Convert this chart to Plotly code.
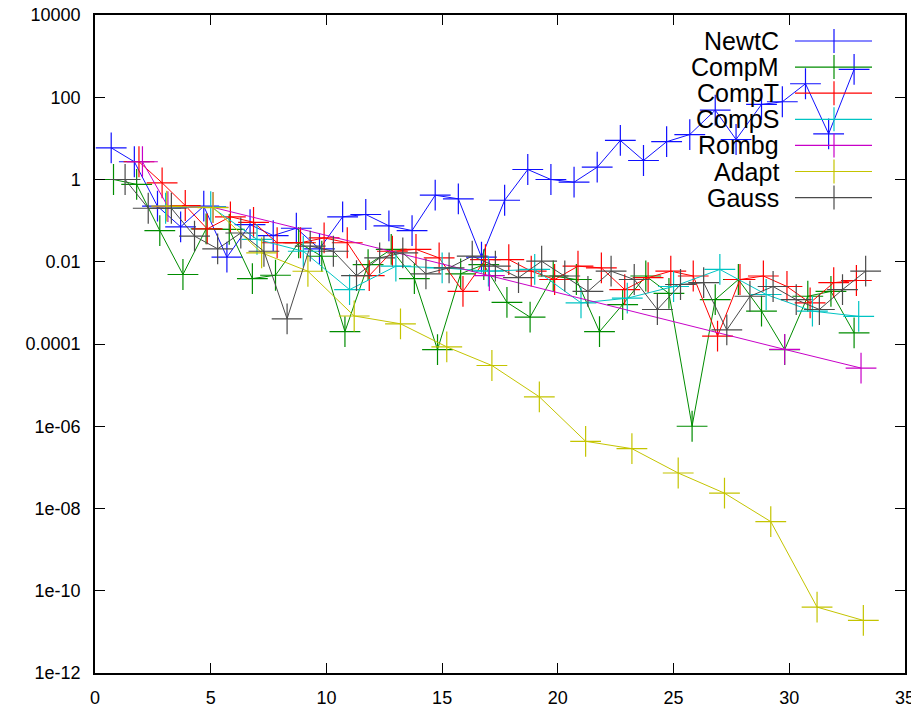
import plotly.graph_objects as go

# ---------------- data ----------------
newtc_x = [0.7, 1.7, 2.7, 3.7, 4.7, 5.7, 6.7, 7.7, 8.7, 9.7, 10.7, 11.7, 12.7, 13.7, 14.7, 15.7,
           16.7, 17.7, 18.7, 19.7, 20.7, 21.7, 22.7, 23.7, 24.7, 25.7, 26.8, 27.7, 28.8, 29.7, 30.7, 31.7, 32.8]
newtc_y = [5.9, 2.7, 0.224, 0.0707, 0.224, 0.0129, 0.080, 0.0434, 0.0653, 0.0206, 0.124, 0.141, 0.0747,
           0.0574, 0.415, 0.339, 0.0129, 0.313, 1.75, 1.0, 0.86, 1.99, 8.9, 2.9, 8.3, 12.4, 48.5, 9.4,
           66.8, 77.7, 213, 12.9, 475]

compm_x = [0.8, 1.8, 2.8, 3.8, 4.8, 5.8, 6.8, 7.8, 8.8, 9.8, 10.8, 11.8, 12.8, 13.8, 14.8, 15.8,
           16.8, 17.8, 18.8, 19.8, 20.8, 21.8, 22.8, 23.8, 24.8, 25.8, 26.8, 27.8, 28.8, 29.8, 30.8, 31.8, 32.8]
compm_y = [1.0, 0.76, 0.057, 0.0049, 0.063, 0.061, 0.0039, 0.0047, 0.029, 0.0136, 2.0e-4, 0.0085, 0.02,
           0.0039, 7.3e-5, 0.0051, 0.0085, 0.00103, 4.5e-4, 0.0045, 0.0037, 2.0e-4, 9.1e-4, 0.0045,
           0.0017, 1.0e-6, 0.0012, 0.0037, 6.3e-4, 7.3e-5, 0.00145, 0.0019, 1.86e-4]

compt_x = [1.9, 2.9, 3.9, 4.85, 5.85, 6.85, 7.87, 8.88, 9.9, 10.9, 11.85, 12.85, 13.87, 14.87, 15.9,
           16.87, 17.88, 18.85, 19.86, 20.87, 21.88, 22.89, 23.9, 24.88, 25.85, 26.9, 27.87, 28.88,
           29.9, 30.9, 31.92, 32.9]
compt_y = [2.7, 0.83, 0.233, 0.063, 0.124, 0.091, 0.029, 0.029, 0.038, 0.029, 0.0046, 0.018, 0.020,
           0.0124, 0.0019, 0.0113, 0.0113, 0.0059, 0.0037, 0.0078, 0.0071, 0.0021, 0.0041, 0.0059,
           0.0045, 1.55e-4, 0.0037, 0.0045, 0.0025, 0.001, 0.0031, 0.0035]

comps_x = [3.05, 5.0, 7.0, 9.0, 11.0, 13.0, 15.0, 17.0, 19.0, 21.0, 23.0, 25.0, 27.0, 29.0, 31.0, 33.0]
comps_y = [0.2, 0.22, 0.035, 0.018, 0.0021, 0.0078, 0.0071, 0.0059, 0.0065, 0.001, 0.0013, 0.0025,
           0.0065, 0.0016, 6.3e-4, 4.7e-4]

rombg_x = [2.05, 3.15, 5.1, 17.04, 29.8, 33.1]
rombg_y = [2.7, 0.22, 0.21, 0.0046, 7.4e-5, 2.6e-5]

adapt_x = [3.1, 5.1, 7.2, 9.2, 11.2, 13.2, 15.2, 17.15, 19.2, 21.2, 23.2, 25.2, 27.2, 29.2, 31.2, 33.2]
adapt_y = [0.224, 0.208, 0.0165, 0.00587, 4.8e-4, 3.1e-4, 8.5e-5, 3.0e-5, 5.2e-6, 4.3e-7, 2.85e-7,
           7.3e-8, 2.36e-8, 4.8e-9, 4.0e-11, 1.9e-11]

gauss_x = [1.3, 2.3, 3.3, 4.3, 5.3, 6.3, 7.3, 8.3, 9.3, 10.3, 11.3, 12.3, 13.3, 14.3, 15.3, 16.3, 17.3,
           18.3, 19.3, 20.3, 21.3, 22.3, 23.3, 24.3, 25.3, 26.3, 27.3, 28.3, 29.3, 30.3, 31.3, 32.3, 33.3]
gauss_y = [1.0, 0.2, 0.2, 0.042, 0.0206, 0.050, 0.018, 4.1e-4, 0.024, 0.018, 0.0046, 0.0124, 0.0165,
           0.0051, 0.0071, 0.0137, 0.0078, 0.0041, 0.0103, 0.0045, 0.0019, 0.0059, 0.0037, 6.9e-4,
           0.0028, 0.0031, 2.2e-4, 0.00145, 0.0025, 0.0012, 6.9e-4, 0.0021, 0.0059]

series_names = ["NewtC", "CompM", "CompT", "CompS", "Rombg", "Adapt", "Gauss"]
series_x = [newtc_x, compm_x, compt_x, comps_x, rombg_x, adapt_x, gauss_x]
series_y = [newtc_y, compm_y, compt_y, comps_y, rombg_y, adapt_y, gauss_y]
colors = ["#1010ff", "#008c00", "#ff0000", "#00c4c4", "#c800c8", "#c4c400", "#4a4a4a"]

y_tick_vals = [1e4, 1e2, 1, 1e-2, 1e-4, 1e-6, 1e-8, 1e-10, 1e-12]
y_tick_text = ["10000", "100", "1", "0.01", "0.0001", "1e-06", "1e-08", "1e-10", "1e-12"]

# ---------------- figure ----------------
# the page body has an 8px margin, so the figure is sized/placed to compensate
OFF = 8
W, H = 919 - OFF, 717 - 2 * OFF
PL, PR, PT, PB = 95, 905, 15, 673          # plot box in window pixels
ML, MR, MT, MB = PL - OFF, W - (PR - OFF), PT - OFF, H - (PB - OFF)
PW, PH = W - ML - MR, H - MT - MB

fig = go.Figure()
for name, xs, ys, c in zip(series_names, series_x, series_y, colors):
    fig.add_trace(go.Scatter(
        x=xs, y=ys, name=name, mode="lines+markers",
        line=dict(color=c, width=1),
        marker=dict(symbol="cross-thin", size=22, line=dict(color=c, width=1.2), color=c),
        showlegend=False,
    ))

# gnuplot-style key: text right-aligned, sample line with a cross to its right
def px_to_paper_x(px):
    return (px - PL) / PW

def px_to_paper_y(py):
    return 1 - (py - PT) / PH

key_text_right = 781
key_line_x0, key_line_x1, key_mark_x = 795, 872, 834
key_row0, key_row_step, key_half = 41, 26.1, 12
annotations = []
shapes = []
for i, (name, c) in enumerate(zip(series_names, colors)):
    ry = key_row0 + i * key_row_step
    annotations.append(dict(
        x=px_to_paper_x(key_text_right), y=px_to_paper_y(ry), xref="paper", yref="paper",
        text=name, showarrow=False, xanchor="right", yanchor="middle",
        font=dict(family="Liberation Sans, Arial, sans-serif", size=25, color="black"),
    ))
    shapes.append(dict(type="line", xref="paper", yref="paper",
                       x0=px_to_paper_x(key_line_x0), x1=px_to_paper_x(key_line_x1),
                       y0=px_to_paper_y(ry), y1=px_to_paper_y(ry),
                       line=dict(color=c, width=1.2)))
    shapes.append(dict(type="line", xref="paper", yref="paper",
                       x0=px_to_paper_x(key_mark_x), x1=px_to_paper_x(key_mark_x),
                       y0=px_to_paper_y(ry - key_half), y1=px_to_paper_y(ry + key_half),
                       line=dict(color=c, width=1.2)))

tick_font = dict(family="Liberation Sans, Arial, sans-serif", size=18, color="black")
fig.update_layout(
    width=W, height=H,
    margin=dict(l=ML, r=MR, t=MT, b=MB, pad=0, autoexpand=False),
    paper_bgcolor="white", plot_bgcolor="white",
    annotations=annotations, shapes=shapes,
    xaxis=dict(range=[0, 35], tickmode="linear", tick0=0, dtick=5, automargin=False,
               ticks="inside", ticklen=10, tickwidth=1, tickcolor="black",
               ticklabelstandoff=8, ticklabeloverflow="allow",
               showline=True, linecolor="black", linewidth=1.5, mirror="ticks",
               showgrid=False, zeroline=False, tickfont=tick_font),
    yaxis=dict(type="log", range=[-12, 4], tickmode="array", automargin=False,
               tickvals=y_tick_vals, ticktext=y_tick_text,
               ticks="inside", ticklen=10, tickwidth=1, tickcolor="black",
               ticklabelstandoff=9, ticklabeloverflow="allow",
               showline=True, linecolor="black", linewidth=1.5, mirror="ticks",
               showgrid=False, zeroline=False, tickfont=tick_font),
)

fig.write_html("out.html")
